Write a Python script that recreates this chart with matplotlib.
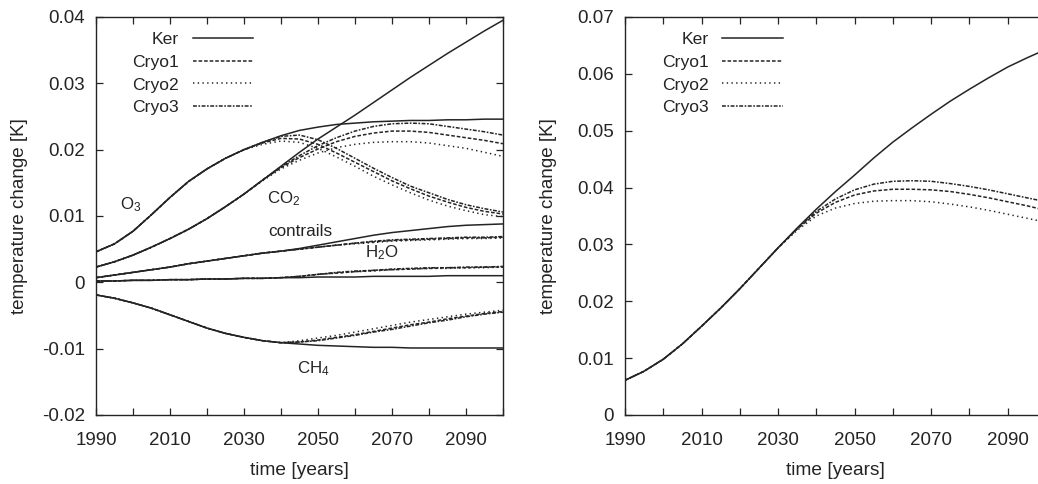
import numpy as np
import matplotlib
matplotlib.use("Agg")
import matplotlib.pyplot as plt

plt.rcParams['font.family'] = ['Liberation Sans', 'DejaVu Sans']
plt.rcParams['mathtext.fontset'] = 'custom'
plt.rcParams['mathtext.rm'] = 'Liberation Sans'
plt.rcParams['mathtext.it'] = 'Liberation Sans:italic'
plt.rcParams['font.size'] = 13.5

# years 1990..2100 every 5 years
years = np.arange(1990, 2101, 5)

# --- left panel: contribution per species [K] ---
o3_ker = [.0046, .0058, .0077, .0102, .0128, .0152, .0171, .0187, .0200, .0211, .0221, .0229,
          .0234, .0238, .0240, .0242, .0243, .0244, .0244, .0245, .0245, .0246, .0246]
o3_c1 = o3_ker[:9] + [.0210, .0217, .0216, .0208, .0195, .0181, .0167, .0153, .0141, .0130, .0121, .0113, .0107, .0103]
o3_c2 = o3_ker[:9] + [.0208, .0213, .0211, .0202, .0189, .0175, .0160, .0147, .0135, .0124, .0115, .0108, .0102, .0099]
o3_c3 = o3_ker[:9] + [.0211, .0220, .0222, .0215, .0202, .0187, .0172, .0158, .0145, .0135, .0125, .0117, .0111, .0106]

co2_ker = [.0023, .0031, .0041, .0053, .0066, .0080, .0096, .0114, .0133, .0154, .0175, .0196,
           .0216, .0234, .0252, .0271, .0290, .0309, .0327, .0345, .0362, .0379, .0395]
co2_c1 = co2_ker[:9] + [.0154, .0173, .0188, .0201, .0212, .0220, .0225, .0228, .0228, .0226, .0222, .0218, .0214, .0209]
co2_c2 = co2_ker[:9] + [.0153, .0171, .0184, .0195, .0203, .0208, .0211, .0212, .0212, .0210, .0206, .0202, .0196, .0190]
co2_c3 = co2_ker[:9] + [.0154, .0174, .0191, .0206, .0218, .0228, .0235, .0239, .0240, .0239, .0235, .0231, .0227, .0222]

con_ker = [.0007, .0011, .0015, .0019, .0023, .0028, .0032, .0036, .0040, .0044, .0047, .0051,
           .0056, .0061, .0066, .0071, .0075, .0078, .0081, .0084, .0086, .0087, .0088]
con_c1 = con_ker[:11] + [.0050, .0053, .0056, .0059, .0061, .0063, .0064, .0065, .0066, .0067, .0067, .0068]
con_c2 = con_ker[:11] + [.0050, .0053, .0056, .0058, .0060, .0062, .0063, .0064, .0065, .0066, .0066, .0067]
con_c3 = con_ker[:11] + [.0050, .0053, .0056, .0059, .0062, .0064, .0065, .0066, .0067, .0068, .0068, .0069]

h2o_ker = [.0002, .0002, .0003, .0003, .0004, .0004, .0005, .0005, .0006, .0006, .0007, .0007,
           .0008, .0008, .0008, .0009, .0009, .0009, .0009, .0010, .0010, .0010, .0010]
h2o_c1 = h2o_ker[:11] + [.0009, .0012, .0014, .0016, .0018, .0019, .0020, .0021, .0022, .0022, .0023, .0023]
h2o_c2 = h2o_ker[:11] + [.0009, .0012, .0014, .0016, .0017, .0019, .0020, .0021, .0021, .0022, .0022, .0023]
h2o_c3 = h2o_ker[:11] + [.0009, .0012, .0015, .0017, .0018, .0020, .0021, .0022, .0022, .0023, .0023, .0024]

ch4_ker = [-.0019, -.0024, -.0031, -.0039, -.0049, -.0059, -.0069, -.0077, -.0083, -.0088, -.0091, -.0093,
           -.0095, -.0096, -.0097, -.0098, -.0098, -.0099, -.0099, -.0099, -.0099, -.0099, -.0099]
ch4_c1 = ch4_ker[:11] + [-.0090, -.0087, -.0083, -.0079, -.0074, -.0069, -.0064, -.0060, -.0055, -.0051, -.0047, -.0044]
ch4_c2 = ch4_ker[:11] + [-.0088, -.0084, -.0080, -.0075, -.0070, -.0065, -.0060, -.0056, -.0052, -.0048, -.0045, -.0042]
ch4_c3 = ch4_ker[:11] + [-.0090, -.0088, -.0084, -.0080, -.0075, -.0071, -.0066, -.0061, -.0057, -.0052, -.0048, -.0045]

# --- right panel: total [K] ---
tot_ker = [.0061, .0077, .0098, .0125, .0156, .0188, .0222, .0258, .0294, .0329, .0362, .0393,
           .0422, .0452, .0480, .0505, .0529, .0552, .0573, .0593, .0612, .0628, .0643]
tot_c1 = tot_ker[:9] + [.0327, .0355, .0374, .0387, .0394, .0397, .0397, .0396, .0393, .0388, .0382, .0375, .0368, .0360]
tot_c2 = tot_ker[:9] + [.0325, .0350, .0364, .0372, .0376, .0377, .0377, .0375, .0371, .0366, .0360, .0353, .0346, .0339]
tot_c3 = tot_ker[:9] + [.0328, .0358, .0380, .0396, .0406, .0411, .0412, .0411, .0407, .0402, .0396, .0389, .0382, .0375]

scenarios = ['Ker', 'Cryo1', 'Cryo2', 'Cryo3']
species = {
    'O3': [o3_ker, o3_c1, o3_c2, o3_c3],
    'CO2': [co2_ker, co2_c1, co2_c2, co2_c3],
    'contrails': [con_ker, con_c1, con_c2, con_c3],
    'H2O': [h2o_ker, h2o_c1, h2o_c2, h2o_c3],
    'CH4': [ch4_ker, ch4_c1, ch4_c2, ch4_c3],
}
totals = [tot_ker, tot_c1, tot_c2, tot_c3]

left_yticks = [-0.02, -0.01, 0, 0.01, 0.02, 0.03, 0.04]
left_ylabels = ['-0.02', '-0.01', '0', '0.01', '0.02', '0.03', '0.04']
right_yticks = [0, 0.01, 0.02, 0.03, 0.04, 0.05, 0.06, 0.07]
right_ylabels = ['0', '0.01', '0.02', '0.03', '0.04', '0.05', '0.06', '0.07']

ink = '#242424'
dash = {'Ker': None, 'Cryo1': (2.6, 1.4), 'Cryo2': (1.0, 2.4), 'Cryo3': (2.8, 1.1, 1.2, 1.1)}


def draw(ax, series, label):
    for name, vals in zip(scenarios, series):
        kw = dict(color=ink, lw=1.1)
        if dash[name] is not None:
            kw['dashes'] = tuple(d / 1.1 for d in dash[name])
        ax.plot(years, vals, label=name if label else None, **kw)


def style(ax, yticks, ylabels, ylim):
    ax.set_xlim(1990, 2100)
    ax.set_ylim(*ylim)
    ax.set_xticks(np.arange(1990, 2101, 20))
    ax.set_xticks(np.arange(2000, 2101, 20), minor=True)
    ax.set_yticks(yticks)
    ax.set_yticklabels(ylabels)
    ax.tick_params(which='both', direction='in', top=True, right=True, length=5, width=0.9,
                   color=ink, labelcolor=ink, labelsize=13.5)
    ax.tick_params(axis='x', pad=12)
    ax.tick_params(axis='y', pad=8)
    for sp in ax.spines.values():
        sp.set_linewidth(1.0)
        sp.set_color(ink)
    ax.set_xlabel('time [years]', color=ink, fontsize=13.8)
    ax.set_ylabel('temperature change [K]', color=ink, fontsize=13.5)
    ax.xaxis.set_label_coords(0.5, -0.118)
    leg = ax.legend(loc='upper right', markerfirst=False, frameon=False, handlelength=3.45,
                    handletextpad=0.8, labelspacing=0.43, borderpad=0, borderaxespad=0,
                    fontsize=12.6)
    for t in leg.get_texts():
        t.set_color(ink)
    return leg


fig = plt.figure(figsize=(10.38, 4.84), dpi=100)
ax1 = fig.add_axes([0.0925, 0.1426, 0.392, 0.8223])
ax2 = fig.add_axes([0.6021, 0.1426, 0.4056, 0.8223])

first = True
for key, series in species.items():
    draw(ax1, series, first)
    first = False
draw(ax2, totals, True)

leg1 = style(ax1, left_yticks, left_ylabels, (-0.02, 0.04))
leg1.set_bbox_to_anchor((0.386, 0.963), transform=ax1.transAxes)
ax1.yaxis.set_label_coords(-0.167, 0.5)
leg2 = style(ax2, right_yticks, right_ylabels, (0, 0.07))
leg2.set_bbox_to_anchor((0.375, 0.963), transform=ax2.transAxes)
ax2.yaxis.set_label_coords(-0.162, 0.5)

# species names next to their curves
ax1.text(1996.5, 0.0117, 'O$_3$', color=ink, fontsize=12.2, va='center')
ax1.text(2036.2, 0.0126, 'CO$_2$', color=ink, fontsize=12.2, va='center')
ax1.text(2036.5, 0.0077, 'contrails', color=ink, fontsize=12.3, va='center')
ax1.text(2062.7, 0.0044, 'H$_2$O', color=ink, fontsize=12.2, va='center')
ax1.text(2044.3, -0.0130, 'CH$_4$', color=ink, fontsize=12.2, va='center')

fig.savefig('out.png', dpi=100)
